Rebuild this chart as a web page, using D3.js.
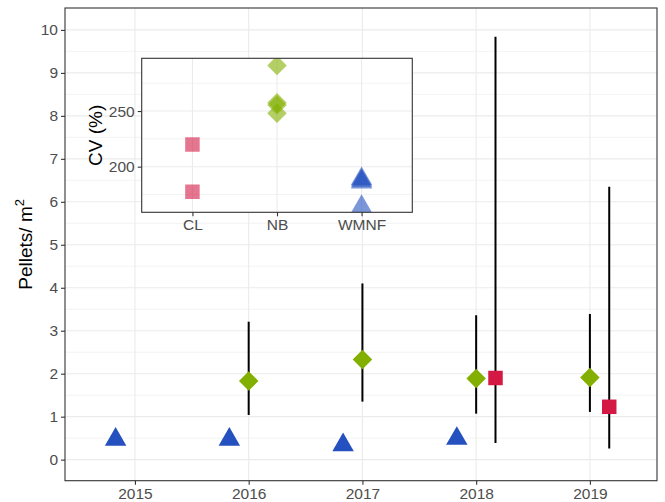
<!DOCTYPE html>
<html>
<head>
<meta charset="utf-8">
<script src="https://cdn.jsdelivr.net/npm/d3@7"></script>
<style>
  body { margin: 0; background: #fff; }
  svg { display: block; font-family: "Liberation Sans", Arial, sans-serif; }
</style>
</head>
<body>
<svg id="chart" width="665" height="502"></svg>
<script>
// main panel: mean pellets per m2 with ranges
const years = [2015, 2016, 2017, 2018, 2019];

const wmnfYears = [2015, 2016, 2017, 2018];
const wmnfMean = [0.47, 0.47, 0.34, 0.49];

const nbYears = [2016, 2017, 2018, 2019];
const nbMean = [1.83, 2.33, 1.89, 1.91];
const nbLow = [1.04, 1.35, 1.07, 1.11];
const nbHigh = [3.21, 4.10, 3.36, 3.39];

const clYears = [2018, 2019];
const clMean = [1.90, 1.23];
const clLow = [0.39, 0.26];
const clHigh = [9.84, 6.35];

// inset: CV (%) by site
const sites = ["CL", "NB", "WMNF"];
const cvCL = [220, 177.5];
const cvNB = [291, 257.5, 255.5, 248];
const cvWMNF = [189, 187.5, 186, 164];

const colors = { CL: "#D41A44", NB: "#82AF00", WMNF: "#2451BF" };
const dodge = 0.17;
const tickFont = "15.5px";
const titleFont = "19px";

const svg = d3.select("#chart");

// ---- main panel
const main = { minX: 65, maxX: 657, minY: 8, maxY: 480.7 };
const x = d3.scaleLinear().domain([2014.385, 2019.59]).range([main.minX, main.maxX]);
const y = d3.scaleLinear().domain([-0.49, 10.51]).range([main.maxY, main.minY]);

const grid = svg.append("g");
grid.selectAll("line.minor")
    .data(d3.range(0.5, 10.5, 1))
    .join("line")
    .attr("x1", main.minX).attr("x2", main.maxX)
    .attr("y1", d => y(d)).attr("y2", d => y(d))
    .attr("stroke", "#EBEBEB").attr("stroke-width", 0.6);
grid.selectAll("line.majorY")
    .data(d3.range(0, 11))
    .join("line")
    .attr("x1", main.minX).attr("x2", main.maxX)
    .attr("y1", d => y(d)).attr("y2", d => y(d))
    .attr("stroke", "#EBEBEB").attr("stroke-width", 1.1);
grid.selectAll("line.majorX")
    .data(years)
    .join("line")
    .attr("y1", main.minY).attr("y2", main.maxY)
    .attr("x1", d => x(d)).attr("x2", d => x(d))
    .attr("stroke", "#EBEBEB").attr("stroke-width", 1.1);

// error bars
const bars = [];
nbYears.forEach((yr, i) => bars.push({ x: yr, lo: nbLow[i], hi: nbHigh[i] }));
clYears.forEach((yr, i) => bars.push({ x: yr + dodge, lo: clLow[i], hi: clHigh[i] }));
svg.append("g").selectAll("line")
    .data(bars)
    .join("line")
    .attr("x1", d => x(d.x)).attr("x2", d => x(d.x))
    .attr("y1", d => y(d.lo)).attr("y2", d => y(d.hi))
    .attr("stroke", "#000").attr("stroke-width", 2);

const tri = d3.symbol(d3.symbolTriangle, 200);
const sq = d3.symbol(d3.symbolSquare, 210);
const dia = d3.symbol(d3.symbolSquare, 190);

const pts = svg.append("g");
pts.selectAll("path.w")
    .data(wmnfYears.map((yr, i) => [yr - dodge, wmnfMean[i]]))
    .join("path")
    .attr("d", tri)
    .attr("transform", d => `translate(${x(d[0])},${y(d[1])})`)
    .attr("fill", colors.WMNF);
pts.selectAll("path.n")
    .data(nbYears.map((yr, i) => [yr, nbMean[i]]))
    .join("path")
    .attr("d", dia)
    .attr("transform", d => `translate(${x(d[0])},${y(d[1])}) rotate(45)`)
    .attr("fill", colors.NB);
pts.selectAll("path.c")
    .data(clYears.map((yr, i) => [yr + dodge, clMean[i]]))
    .join("path")
    .attr("d", sq)
    .attr("transform", d => `translate(${x(d[0])},${y(d[1])})`)
    .attr("fill", colors.CL);

svg.append("rect")
    .attr("x", main.minX).attr("y", main.minY)
    .attr("width", main.maxX - main.minX).attr("height", main.maxY - main.minY)
    .attr("fill", "none").attr("stroke", "#333").attr("stroke-width", 1.1);

// axes
function styleAxis(a) {
    a.select(".domain").remove();
    a.selectAll(".tick line").attr("stroke", "#333").attr("stroke-width", 1.1);
    a.selectAll(".tick text").attr("fill", "#4D4D4D").style("font-size", tickFont)
        .style("font-family", "Liberation Sans, Arial, sans-serif");
}
const yAxis = svg.append("g")
    .attr("transform", `translate(${main.minX} 0)`)
    .call(d3.axisLeft(y).tickValues(d3.range(0, 11)).tickSize(4).tickPadding(3));
const xAxis = svg.append("g")
    .attr("transform", `translate(0 ${main.maxY})`)
    .call(d3.axisBottom(x).tickValues(years).tickFormat(d3.format("d")).tickSize(4).tickPadding(3));
styleAxis(xAxis);
styleAxis(yAxis);

const title = svg.append("text")
    .attr("transform", `translate(32 ${(main.minY + main.maxY) / 2}) rotate(-90)`)
    .attr("text-anchor", "middle")
    .style("font-size", titleFont)
    .attr("fill", "#000");
title.append("tspan").text("Pellets/ m");
title.append("tspan").attr("dy", -8).style("font-size", "13px").text("2");

// ---- inset
const ins = { minX: 141.7, maxX: 412.3, minY: 58.3, maxY: 212.3 };
const ix = d3.scalePoint().domain(sites).range([ins.minX, ins.maxX]).padding(0.6);
const iy = d3.scaleLinear().domain([159, 297.4]).range([ins.maxY, ins.minY]);

const inset = svg.append("g");
inset.append("clipPath").attr("id", "insclip")
    .append("rect")
    .attr("x", ins.minX).attr("y", ins.minY)
    .attr("width", ins.maxX - ins.minX).attr("height", ins.maxY - ins.minY);
inset.append("rect")
    .attr("x", ins.minX).attr("y", ins.minY)
    .attr("width", ins.maxX - ins.minX).attr("height", ins.maxY - ins.minY)
    .attr("fill", "#fff");
inset.selectAll("line.iminor")
    .data([175, 225, 275])
    .join("line")
    .attr("x1", ins.minX).attr("x2", ins.maxX)
    .attr("y1", d => iy(d)).attr("y2", d => iy(d))
    .attr("stroke", "#EBEBEB").attr("stroke-width", 0.6);
inset.selectAll("line.imajor")
    .data([200, 250])
    .join("line")
    .attr("x1", ins.minX).attr("x2", ins.maxX)
    .attr("y1", d => iy(d)).attr("y2", d => iy(d))
    .attr("stroke", "#EBEBEB").attr("stroke-width", 1.1);
inset.selectAll("line.ix")
    .data(sites)
    .join("line")
    .attr("y1", ins.minY).attr("y2", ins.maxY)
    .attr("x1", d => ix(d)).attr("x2", d => ix(d))
    .attr("stroke", "#EBEBEB").attr("stroke-width", 1.1);

const ipts = inset.append("g").attr("clip-path", "url(#insclip)").attr("fill-opacity", 0.6);
ipts.selectAll("path.c")
    .data(cvCL)
    .join("path")
    .attr("d", sq)
    .attr("transform", d => `translate(${ix("CL")},${iy(d)})`)
    .attr("fill", colors.CL);
ipts.selectAll("path.n")
    .data(cvNB)
    .join("path")
    .attr("d", dia)
    .attr("transform", d => `translate(${ix("NB")},${iy(d)}) rotate(45)`)
    .attr("fill", colors.NB);
ipts.selectAll("path.w")
    .data(cvWMNF)
    .join("path")
    .attr("d", tri)
    .attr("transform", d => `translate(${ix("WMNF")},${iy(d)})`)
    .attr("fill", colors.WMNF);

inset.append("rect")
    .attr("x", ins.minX).attr("y", ins.minY)
    .attr("width", ins.maxX - ins.minX).attr("height", ins.maxY - ins.minY)
    .attr("fill", "none").attr("stroke", "#333").attr("stroke-width", 1.1);

const iyAxis = inset.append("g")
    .attr("transform", `translate(${ins.minX} 0)`)
    .call(d3.axisLeft(iy).tickValues([200, 250]).tickSize(4).tickPadding(3));
const ixAxis = inset.append("g")
    .attr("transform", `translate(0 ${ins.maxY})`)
    .call(d3.axisBottom(ix).tickSize(4).tickPadding(3));
styleAxis(ixAxis);
styleAxis(iyAxis);

inset.append("text")
    .attr("transform", `translate(102 ${(ins.minY + ins.maxY) / 2}) rotate(-90)`)
    .attr("text-anchor", "middle")
    .style("font-size", titleFont)
    .attr("fill", "#000")
    .text("CV (%)");
</script>
</body>
</html>
